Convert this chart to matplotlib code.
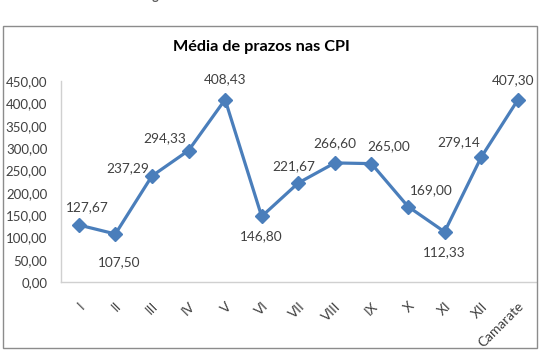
import matplotlib
matplotlib.use("Agg")
import matplotlib.pyplot as plt
from matplotlib.patches import Rectangle
from matplotlib.transforms import ScaledTranslation

categories = ["I", "II", "III", "IV", "V", "VI", "VII", "VIII", "IX", "X", "XI", "XII", "Camarate"]
values = [127.67, 107.50, 237.29, 294.33, 408.43, 146.80, 221.67, 266.60, 265.00, 169.00, 112.33, 279.14, 407.30]
value_labels = ["127,67", "107,50", "237,29", "294,33", "408,43", "146,80", "221,67",
                "266,60", "265,00", "169,00", "112,33", "279,14", "407,30"]
yticks = [0, 50, 100, 150, 200, 250, 300, 350, 400, 450]
ytick_labels = ["0,00", "50,00", "100,00", "150,00", "200,00", "250,00", "300,00",
                "350,00", "400,00", "450,00"]
title = "Média de prazos nas CPI"
caption = "Figura 6 – Prazo de funcionamento das CPI"

# label offsets in pixels (dx, dy; dy positive = up)
label_offsets = [(9, 18), (4, -28), (-24, 8), (-24, 12), (0, 20), (0, -20), (-4, 17),
                 (0, 20), (17, 17), (23, 16), (0, -20), (-22, 15), (-5, 20)]

W, H = 543, 354
fig = plt.figure(figsize=(W / 100, H / 100), dpi=100)
font = "Lato"
txtc = "#404040"

# outer chart border
fig.patches.append(Rectangle((3 / W, 1 - 348 / H), 534 / W, 322 / H, transform=fig.transFigure,
                             fill=False, edgecolor="#8c8c8c", linewidth=1.0))

fig.text(261 / W, 1 - 47 / H, title, ha="center", va="center", fontsize=11.7, fontweight="bold",
         family=font, color="black")
fig.text(262 / W, 1 + 4 / H, caption, ha="center", va="center", fontsize=9, fontweight="bold",
         family=font, color="#595959")

left, right, top, bottom = 60.5, 536, 81, 282
ax = fig.add_axes([left / W, 1 - bottom / H, (right - left) / W, (bottom - top) / H])
x = list(range(len(categories)))
ax.plot(x, values, color="#4A7EBB", linewidth=2.3, marker="D", markersize=7,
        markerfacecolor="#4A7EBB", markeredgecolor="#4A7EBB", zorder=3)

for xi, v, lab, (dx, dy) in zip(x, values, value_labels, label_offsets):
    ax.annotate(lab, (xi, v), xytext=(dx * 0.72, dy * 0.72), textcoords="offset points",
                ha="center", va="center", fontsize=9.8, family=font, color=txtc)

ax.set_xlim(-0.5, len(categories) - 0.5)
ax.set_ylim(0, 450)
ax.set_yticks(yticks)
ax.set_yticklabels(ytick_labels, family=font, fontsize=9.5, color=txtc)
ax.set_xticks(x)
ax.set_xticklabels(categories, family=font, fontsize=9.8, color=txtc, rotation=45,
                   ha="right", rotation_mode="anchor")
shift = ScaledTranslation(4 / 100, 0, fig.dpi_scale_trans)
for lbl in ax.get_xticklabels():
    lbl.set_transform(lbl.get_transform() + shift)
ax.tick_params(axis="both", length=0)
ax.tick_params(axis="y", pad=9.5)
ax.tick_params(axis="x", pad=13)
for s in ["top", "right"]:
    ax.spines[s].set_visible(False)
for s in ["left", "bottom"]:
    ax.spines[s].set_color("#d0d0d0")
    ax.spines[s].set_linewidth(1.0)

fig.savefig("out.png", dpi=100)
